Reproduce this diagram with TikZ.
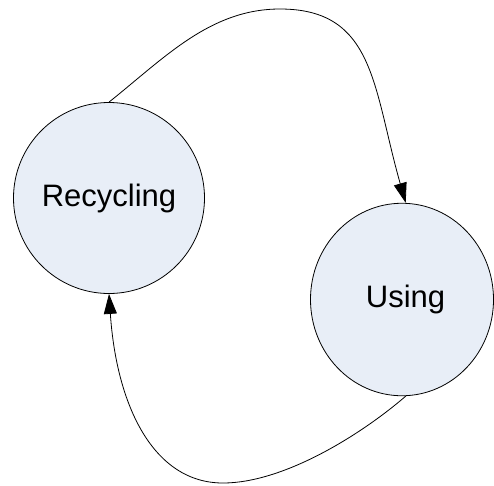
\documentclass[tikz,border=0pt]{standalone}
\usepackage{fontspec}
\setmainfont{Liberation Sans}
\usetikzlibrary{arrows.meta,shapes.geometric}
\definecolor{statefill}{HTML}{E8EEF7}
\begin{document}
\begin{tikzpicture}[x=1pt,y=-1pt,
  state/.style={draw=black, line width=0.8pt, fill=statefill, inner sep=0pt, font=\fontsize{31}{37}\selectfont},
  flow/.style={draw=black, line width=0.8pt, -{Triangle[length=20pt,width=13pt]}}]
\useasboundingbox (0,0) rectangle (494,485);
\node[state, circle, minimum size=191pt] (R) at (109,198) {Recycling};
\node[state, ellipse, minimum width=183pt, minimum height=192.5pt] (U) at (402,299.5) {\hspace*{7pt}Using};
\coordinate (toppeak) at (280,9);
\coordinate (botlow) at (223,483);
\draw[flow] (R.north) .. controls (164.4,58) and (210,9) .. (toppeak)
  .. controls (375,9) and (372.9,87.7) .. ([xshift=3.7pt]U.north);
\draw[flow] ([xshift=3.7pt]U.south) .. controls (360,435.6) and (283,483) .. (botlow)
  .. controls (153,483) and (116.5,405) .. (R.south);
\end{tikzpicture}
\end{document}
